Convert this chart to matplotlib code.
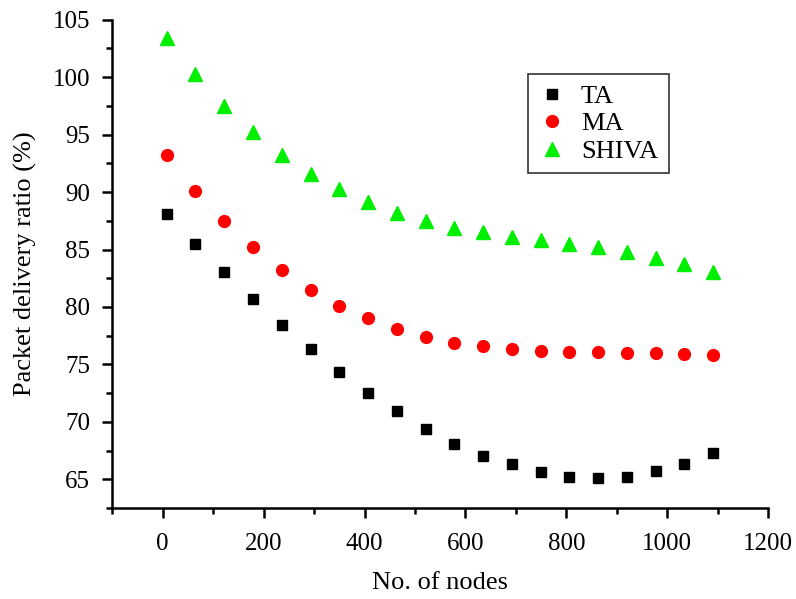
import numpy as np
import matplotlib.pyplot as plt
from matplotlib.ticker import MultipleLocator

plt.rcParams['font.family'] = ['Liberation Serif', 'DejaVu Serif']

nodes = [8, 65, 122, 179, 236, 293, 350, 407, 464, 521,
         578, 635, 692, 749, 806, 863, 920, 977, 1034, 1091]
ta = [88.1, 85.5, 83.0, 80.7, 78.4, 76.3, 74.3, 72.5, 70.9, 69.4,
      68.1, 67.0, 66.3, 65.6, 65.2, 65.1, 65.2, 65.7, 66.3, 67.3]
ma = [93.2, 90.1, 87.5, 85.2, 83.2, 81.5, 80.1, 79.0, 78.1, 77.4,
      76.9, 76.6, 76.3, 76.2, 76.1, 76.1, 76.0, 76.0, 75.9, 75.8]
shiva = [103.4, 100.3, 97.5, 95.2, 93.2, 91.6, 90.3, 89.1, 88.2, 87.5,
         86.9, 86.5, 86.1, 85.8, 85.5, 85.2, 84.8, 84.3, 83.7, 83.0]

fig = plt.figure(figsize=(7.96, 5.99), dpi=100)
ax = fig.add_axes([0.141, 0.152, 0.824, 0.815])

ax.plot(nodes, ta, ls="none", marker="s", ms=7.5, color="black", label="TA")
ax.plot(nodes, ma, ls="none", marker="o", ms=8.5, color="#ff0000", label="MA")
ax.plot(nodes, shiva, ls="none", marker="^", ms=10.5, color="#00ee00", label="SHIVA")

ax.set_xlim(-100, 1200)
ax.set_ylim(62.5, 105)
ax.xaxis.set_major_locator(MultipleLocator(200))
ax.xaxis.set_minor_locator(MultipleLocator(100))
ax.yaxis.set_major_locator(MultipleLocator(5))
ax.yaxis.set_minor_locator(MultipleLocator(2.5))
ax.spines["top"].set_visible(False)
ax.spines["right"].set_visible(False)
for s in ("left", "bottom"):
    ax.spines[s].set_linewidth(1.8)
ax.tick_params(which="major", direction="out", length=7, width=1.8, labelsize=18)
ax.tick_params(which="minor", direction="out", length=4, width=1.8)
ax.tick_params(axis="x", which="major", pad=11)
ax.tick_params(axis="y", which="major", pad=9)

ax.set_xlabel("No. of nodes", fontsize=19, labelpad=12)
ax.set_ylabel("Packet delivery ratio (%)", fontsize=19, labelpad=11)

leg = ax.legend(loc="upper left", bbox_to_anchor=(0.634, 0.889), fontsize=19,
                fancybox=False, edgecolor="#333333", framealpha=1,
                handlelength=1.0, handletextpad=0.6, labelspacing=0.15,
                borderpad=0.4, borderaxespad=0)
leg.get_frame().set_linewidth(1.2)

plt.savefig("out.png", dpi=100)
